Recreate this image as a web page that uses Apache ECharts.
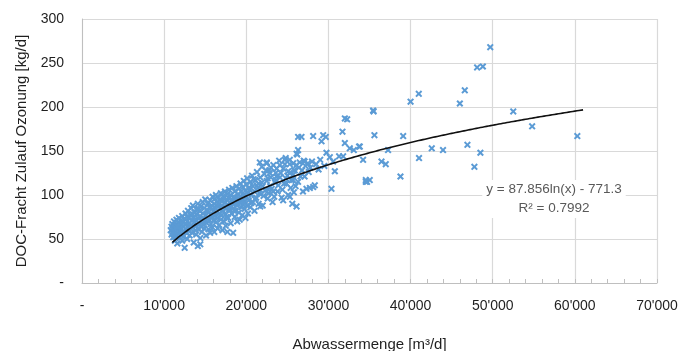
<!DOCTYPE html>
<html>
<head>
<meta charset="utf-8">
<script src="https://cdn.jsdelivr.net/npm/echarts@6/dist/echarts.min.js"></script>
<style>
  html, body { margin: 0; padding: 0; background: #fff; }
  #chart { width: 687px; height: 351px; }
</style>
</head>
<body>
<div id="chart"></div>
<script>
// axis ranges
const xMin = 0, xMax = 70000, xStep = 10000;
const yMin = 0, yMax = 300, yStep = 50;

// logarithmic trendline as printed on the chart: y = a*ln(x) + b
const trendCoef = [87.856, -771.3];
const trendRange = [11000, 61000];
const trendLabel = 'y = 87.856ln(x) - 771.3\nR² = 0.7992';

const denseBand = [
  [10800,60],[10900,64],[11000,57],[11000,67],[11100,52],[11100,61],[11200,55],[11200,70],[11300,63],[11300,48],
  [11400,58],[11400,66],[11500,53],[11500,72],[11600,60],[11600,45],[11700,68],[11700,56],[11800,63],[11800,74],
  [11900,51],[11900,59],[12000,66],[12000,71],[12100,55],[12100,62],[12200,76],[12200,48],[12300,58],[12300,69],
  [12400,64],[12400,53],[12500,40],[12500,73],[12600,61],[12600,79],[12700,57],[12700,67],[12800,70],[12800,50],
  [12900,63],[12900,82],[13000,59],[13000,74],[13100,68],[13100,54],[13200,77],[13200,62],[13300,85],[13300,66],
  [13400,57],[13400,71],[13500,88],[13500,63],[13600,75],[13600,46],[13700,69],[13700,80],[13800,60],[13800,72],
  [13900,84],[13900,55],[14000,67],[14000,78],[14100,42],[14100,90],[14200,73],[14200,61],[14300,82],[14300,68],
  [14400,51],[14400,76],[14400,44],[14500,87],[14500,64],[14600,71],[14600,58],[14700,92],[14700,79],[14800,66],
  [14800,74],[14900,85],[14900,62],[15000,70],[15000,95],[15100,77],[15100,54],[15200,83],[15200,68],[15300,73],
  [15300,90],[15400,61],[15400,80],[15500,86],[15500,72],[15600,57],[15600,94],[15700,78],[15700,67],[15800,88],
  [15800,75],[15900,63],[15900,98],[16000,82],[16000,71],[16100,90],[16100,58],[16200,76],[16200,86],[16300,100],
  [16300,69],[16400,80],[16400,92],[16500,74],[16500,62],[16600,87],[16600,97],[16700,79],[16700,66],[16800,94],
  [16800,84],[16900,72],[16900,102],[17000,88],[17000,77],[17100,60],[17100,93],[17200,82],[17200,99],[17300,70],
  [17300,86],[17400,104],[17400,91],[17500,78],[17500,65],[17600,95],[17600,85],[17700,58],[17700,101],[17800,89],
  [17800,74],[17900,96],[17900,106],[18000,83],[18000,92],[18100,68],[18100,100],[18200,87],[18200,79],[18300,108],
  [18300,94],[18400,57],[18400,85],[18500,98],[18500,90],[18600,75],[18600,104],[18700,93],[18700,82],[18800,110],
  [18800,97],[18900,70],[18900,88],[19000,101],[19000,94],[19100,80],[19100,107],[19200,72],[19200,91],[19300,113],
  [19300,99],[19400,86],[19400,104],[19500,95],[19500,77],[19600,109],[19600,89],[19700,116],[19700,100],[19800,84],
  [19800,93],[19900,105],[19900,74],[20000,98],[20000,112],[20100,88],[20100,119],[20200,102],[20200,79],[20300,108],
  [20300,94],[20500,115],[20500,86],[20600,100],[20700,122],[20800,92],[20800,110],[21000,104],[21000,82],[21100,117],
  [21200,97],[21300,126],[21400,108],[21500,90],[21500,113],[21700,120],[21800,101],[21900,132],[22000,110],[22000,88],
  [22200,124],[22300,105],[22500,137],[22500,116],[22600,96],[22800,128],[22900,110],[23000,120],[23200,92],[23300,134],
  [23500,114],[23600,125],[23800,104],[24000,139],[24100,120],[24300,97],[24500,130],[24600,113],[24800,142],[25000,122],
  [25100,100],[25300,135],[25500,117],[25600,90],[25800,128],[26000,110],[26200,146],[26400,131],[26600,121],[26900,104],
  [20400,106],[20600,91],[20900,118],[21100,95],[21300,111],[21600,102],[21700,87],[21900,114],[22100,99],[22400,128],
  [22600,119],[22700,102],[23000,131],[23100,107],[23400,98],[23600,117],[23700,130],[23900,111],[24200,125],[24400,106],
  [24700,135],[24800,119],[25100,127],[25400,108],[25700,123],[26100,134],[26300,115],[26800,128],[27100,121],[27600,126],
  [16100,95],[16700,90],[17300,97],[17900,84],[18500,82],[19100,96],[19700,91],[15300,82],[14700,70],[14200,84],
  [13500,78],[12800,75],[12100,68],[11600,64],[11300,57],[10900,55],[13900,65],[15700,86],[17600,75],[18800,91]
];

const sparsePoints = [
  [26310,166],[26310,151],[22470,136],[21650,137],[24700,140],[24090,134],[25300,125],[23680,121],[22870,125],[25700,117],
  [24900,113],[25300,98],[24490,94],[26120,87],[22670,106],[23270,104],[32280,186],[31710,172],[26720,166],[28140,167],
  [29360,168],[29680,166],[29160,161],[32000,159],[32600,153],[33090,151],[33730,155],[29760,148],[31300,144],[31790,144],
  [26500,137],[27000,139],[27500,136],[28000,138],[28500,135],[29000,140],[27200,133],[27800,131],[25700,136],[30570,138],
  [30780,127],[34550,117],[35030,117],[27740,108],[28140,109],[28340,111],[27330,107],[30370,107],[25790,103],[25510,117],
  [25900,128],[25300,140],[26120,147],[30170,143],[32000,187],[35440,196],[27100,138],[28800,129],[29500,133],
  [49700,268],[48100,245],[48800,246],[46600,219],[46000,204],[41000,215],[40000,206],[35500,195],[52500,195],[35600,168],
  [39100,167],[33820,155],[34220,140],[37260,151],[36460,138],[36980,135],[34550,115],[34700,115],[38770,121],[41030,142],
  [42580,153],[43950,151],[46920,157],[48500,148],[47770,132],[54800,178],[60300,167]
];

const pointColor = '#5b9bd5';
const textColor = '#1f1f1f';
const fontFamily = '"Liberation Sans", Arial, sans-serif';

function trendPoints() {
  const pts = [];
  for (let x = trendRange[0]; x <= trendRange[1]; x += 500) {
    pts.push([x, trendCoef[0] * Math.log(x) + trendCoef[1]]);
  }
  return pts;
}

function fmtThousands(v) {
  if (v === 0) return '-';
  return String(v).replace(/\B(?=(\d{3})+(?!\d))/g, "'");
}

const chart = echarts.init(document.getElementById('chart'));

// bold "x" marker like the Excel cross symbol
const crossPath = 'path://M0,2L2,0L5,3L8,0L10,2L7,5L10,8L8,10L5,7L2,10L0,8L3,5Z';

chart.setOption({
  animation: false,
  textStyle: { fontFamily: fontFamily },
  grid: { left: 82, right: 30, top: 19, bottom: 68, outerBoundsMode: 'none' },
  xAxis: {
    type: 'value',
    min: xMin, max: xMax, interval: xStep,
    name: 'Abwassermenge [m³/d]',
    nameLocation: 'middle',
    nameGap: 54,
    nameTextStyle: { fontSize: 15, color: textColor, fontFamily: fontFamily },
    axisLine: { show: true, lineStyle: { color: '#bfbfbf', width: 1 } },
    axisTick: { show: true, inside: true, length: 4, lineStyle: { color: '#bfbfbf' } },
    minorTick: { show: true, splitNumber: 5, length: 4, lineStyle: { color: '#bfbfbf' } },
    splitLine: { show: true, lineStyle: { color: '#d9d9d9', width: 1.2 } },
    axisLabel: { formatter: fmtThousands, fontSize: 14, color: textColor, margin: 16 }
  },
  yAxis: {
    type: 'value',
    min: yMin, max: yMax, interval: yStep,
    name: 'DOC-Fracht Zulauf Ozonung [kg/d]',
    nameLocation: 'middle',
    nameGap: 43,
    nameTextStyle: { fontSize: 15, color: textColor, fontFamily: fontFamily },
    axisLine: { show: true, lineStyle: { color: '#bfbfbf', width: 1 } },
    axisTick: { show: false },
    splitLine: { show: true, lineStyle: { color: '#d9d9d9', width: 1.2 } },
    axisLabel: { formatter: fmtThousands, fontSize: 14, color: textColor, margin: 18 }
  },
  graphic: [{
    type: 'text',
    z: 100,
    style: {
      x: 554, y: 180,
      text: trendLabel,
      align: 'center',
      verticalAlign: 'top',
      fontSize: 13.5,
      lineHeight: 19,
      fontFamily: fontFamily,
      fill: '#595959',
      backgroundColor: '#ffffff',
      padding: [0, 4]
    }
  }],
  series: [
    {
      type: 'scatter',
      data: denseBand.concat(sparsePoints),
      symbol: crossPath,
      symbolSize: 7,
      itemStyle: { color: pointColor, opacity: 1 },
      z: 2
    },
    {
      type: 'line',
      data: trendPoints(),
      showSymbol: false,
      smooth: true,
      lineStyle: { color: '#111111', width: 1.6 },
      z: 3
    }
  ]
});
</script>
</body>
</html>
